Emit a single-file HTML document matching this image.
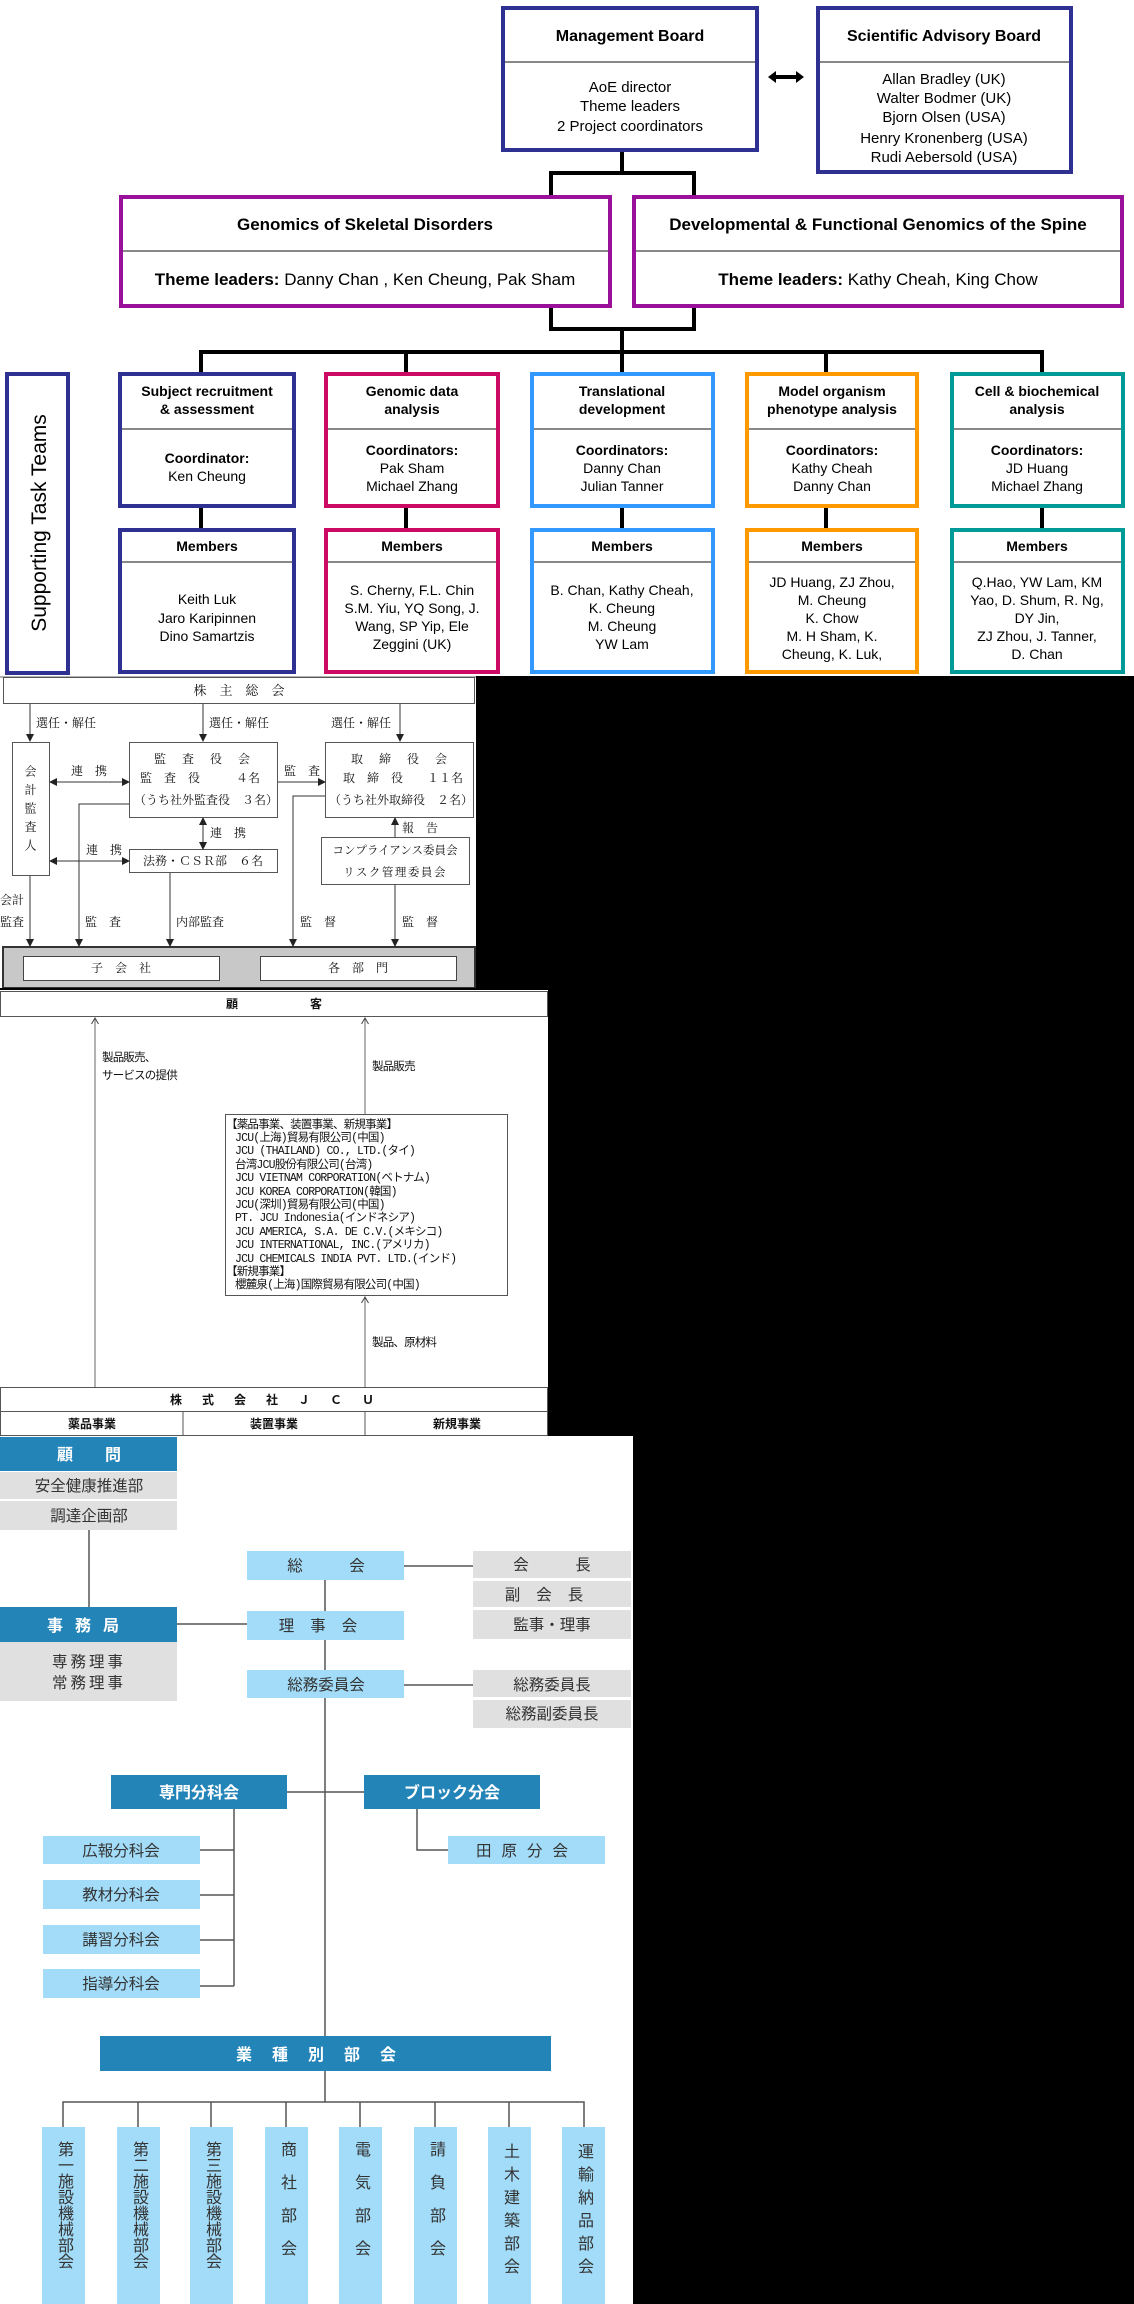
<!DOCTYPE html>
<html><head><meta charset="utf-8">
<style>
html,body{margin:0;padding:0;background:#fff;}
body{width:1134px;height:2304px;position:relative;overflow:hidden;}
svg{position:absolute;left:0;top:0;}
.en{font-family:"Liberation Sans",Arial,sans-serif;fill:#000;}
.jm{font-family:"Liberation Serif","Noto Serif CJK SC",serif;fill:#111;font-size:12px;}
.jg{font-family:"Liberation Mono","Noto Sans CJK JP",monospace;fill:#111;}
.js{font-family:"Liberation Sans","Noto Sans CJK JP",sans-serif;}
.v{position:absolute;writing-mode:vertical-rl;font-family:"Liberation Sans","Noto Sans CJK JP",sans-serif;color:#333;font-size:16px;line-height:16px;}
</style></head><body>
<svg width="1134" height="2304" viewBox="0 0 1134 2304">
<defs>
<marker id="fa" markerWidth="8" markerHeight="8" refX="7" refY="4" orient="auto" markerUnits="userSpaceOnUse"><path d="M0,0 L8,4 L0,8 z" fill="#222"/></marker>
<marker id="fs" markerWidth="8" markerHeight="8" refX="1" refY="4" orient="auto" markerUnits="userSpaceOnUse"><path d="M8,0 L0,4 L8,8 z" fill="#222"/></marker>
<marker id="oa" markerWidth="8" markerHeight="8" refX="7" refY="4" orient="auto" markerUnits="userSpaceOnUse"><path d="M1,0.5 L7,4 L1,7.5" fill="none" stroke="#444" stroke-width="1"/></marker>
</defs>
<rect x="476" y="676" width="658" height="314" fill="#000"/>
<rect x="548" y="990" width="586" height="446" fill="#000"/>
<rect x="633" y="1436" width="501" height="868" fill="#000"/>

<g fill="none" stroke="#000" stroke-width="4">
<path d="M622 152 V173 M551 195 V173 H694 V195"/>
<path d="M551 308 V329 H694 V308 M622 329 V352"/>
<path d="M201 372 V352 H1042 V372 M406 352 V372 M622 352 V372 M826 352 V372"/>
<path d="M201 507 V528 M406 507 V528 M622 507 V528 M826 507 V528 M1042 507 V528"/>
</g>
<rect x="503" y="8" width="254" height="142" fill="#fff" stroke="#2e3192" stroke-width="4"/>
<line x1="505" y1="62" x2="755" y2="62" stroke="#888" stroke-width="2"/>
<text class="en" x="630" y="41" text-anchor="middle" font-size="16" font-weight="bold">Management Board</text>
<g class="en" font-size="15" text-anchor="middle"><text x="630" y="92">AoE director</text><text x="630" y="111">Theme leaders</text><text x="630" y="131">2 Project coordinators</text></g>
<rect x="818" y="8" width="253" height="164" fill="#fff" stroke="#2e3192" stroke-width="4"/>
<line x1="820" y1="62" x2="1069" y2="62" stroke="#888" stroke-width="2"/>
<text class="en" x="944" y="41" text-anchor="middle" font-size="16" font-weight="bold">Scientific Advisory Board</text>
<g class="en" font-size="15" text-anchor="middle"><text x="944" y="84">Allan Bradley (UK)</text><text x="944" y="103">Walter Bodmer (UK)</text><text x="944" y="122">Bjorn Olsen (USA)</text><text x="944" y="143">Henry Kronenberg (USA)</text><text x="944" y="162">Rudi Aebersold (USA)</text></g>
<path d="M768 77 L776 71 V75 H796 V71 L804 77 L796 83 V79 H776 V83 Z" fill="#000"/>

<rect x="121" y="197" width="489" height="109" fill="#fff" stroke="#9b109b" stroke-width="4"/>
<line x1="123" y1="251" x2="608" y2="251" stroke="#888" stroke-width="2"/>
<text class="en" x="365" y="230" text-anchor="middle" font-size="17" font-weight="bold">Genomics of Skeletal Disorders</text>
<text class="en" x="365" y="285" text-anchor="middle" font-size="17"><tspan font-weight="bold">Theme leaders:</tspan> Danny Chan , Ken Cheung, Pak Sham</text>
<rect x="634" y="197" width="488" height="109" fill="#fff" stroke="#9b109b" stroke-width="4"/>
<line x1="636" y1="251" x2="1120" y2="251" stroke="#888" stroke-width="2"/>
<text class="en" x="878" y="230" text-anchor="middle" font-size="17" font-weight="bold">Developmental &amp; Functional Genomics of the Spine</text>
<text class="en" x="878" y="285" text-anchor="middle" font-size="17"><tspan font-weight="bold">Theme leaders:</tspan> Kathy Cheah,  King Chow</text>

<rect x="7" y="374" width="61" height="299" fill="#fff" stroke="#2e3192" stroke-width="4"/>
<text class="en" font-size="21" text-anchor="middle" transform="translate(46,523) rotate(-90)">Supporting Task Teams</text>

<g stroke-width="4" fill="#fff">
<rect x="120" y="374" width="174" height="132" stroke="#2e3192"/>
<rect x="120" y="530" width="174" height="142" stroke="#2e3192"/>
<rect x="326" y="374" width="172" height="132" stroke="#cc0a64"/>
<rect x="326" y="530" width="172" height="142" stroke="#cc0a64"/>
<rect x="532" y="374" width="181" height="132" stroke="#3399ff"/>
<rect x="532" y="530" width="181" height="142" stroke="#3399ff"/>
<rect x="747" y="374" width="170" height="132" stroke="#ff9900"/>
<rect x="747" y="530" width="170" height="142" stroke="#ff9900"/>
<rect x="952" y="374" width="171" height="132" stroke="#009a99"/>
<rect x="952" y="530" width="171" height="142" stroke="#009a99"/>
</g>
<g stroke="#888" stroke-width="2">
<line x1="122" y1="429" x2="292" y2="429"/><line x1="122" y1="562" x2="292" y2="562"/>
<line x1="328" y1="429" x2="496" y2="429"/><line x1="328" y1="562" x2="496" y2="562"/>
<line x1="534" y1="429" x2="711" y2="429"/><line x1="534" y1="562" x2="711" y2="562"/>
<line x1="749" y1="429" x2="915" y2="429"/><line x1="749" y1="562" x2="915" y2="562"/>
<line x1="954" y1="429" x2="1121" y2="429"/><line x1="954" y1="562" x2="1121" y2="562"/>
</g>
<g class="en" font-size="14" text-anchor="middle">
<g font-weight="bold">
<text x="207" y="396">Subject recruitment</text><text x="207" y="414">&amp; assessment</text>
<text x="412" y="396">Genomic data</text><text x="412" y="414">analysis</text>
<text x="622" y="396">Translational</text><text x="622" y="414">development</text>
<text x="832" y="396">Model organism</text><text x="832" y="414">phenotype analysis</text>
<text x="1037" y="396">Cell &amp; biochemical</text><text x="1037" y="414">analysis</text>
<text x="207" y="463">Coordinator:</text>
<text x="412" y="455">Coordinators:</text><text x="622" y="455">Coordinators:</text><text x="832" y="455">Coordinators:</text><text x="1037" y="455">Coordinators:</text>
<text x="207" y="551">Members</text><text x="412" y="551">Members</text><text x="622" y="551">Members</text><text x="832" y="551">Members</text><text x="1037" y="551">Members</text>
</g>
<text x="207" y="481">Ken Cheung</text>
<text x="412" y="473">Pak Sham</text><text x="412" y="491">Michael Zhang</text>
<text x="622" y="473">Danny Chan</text><text x="622" y="491">Julian Tanner</text>
<text x="832" y="473">Kathy Cheah</text><text x="832" y="491">Danny Chan</text>
<text x="1037" y="473">JD Huang</text><text x="1037" y="491">Michael Zhang</text>
<text x="207" y="604">Keith Luk</text><text x="207" y="623">Jaro Karipinnen</text><text x="207" y="641">Dino Samartzis</text>
<text x="412" y="595">S. Cherny, F.L. Chin</text><text x="412" y="613">S.M. Yiu, YQ Song, J.</text><text x="412" y="631">Wang, SP Yip, Ele</text><text x="412" y="649">Zeggini (UK)</text>
<text x="622" y="595">B. Chan, Kathy Cheah,</text><text x="622" y="613">K. Cheung</text><text x="622" y="631">M. Cheung</text><text x="622" y="649">YW Lam</text>
<text x="832" y="587">JD Huang, ZJ Zhou,</text><text x="832" y="605">M. Cheung</text><text x="832" y="623">K. Chow</text><text x="832" y="641">M. H Sham, K.</text><text x="832" y="659">Cheung, K. Luk,</text>
<text x="1037" y="587">Q.Hao,  YW Lam, KM</text><text x="1037" y="605">Yao, D. Shum, R. Ng,</text><text x="1037" y="623">DY Jin,</text><text x="1037" y="641">ZJ Zhou, J. Tanner,</text><text x="1037" y="659">D. Chan</text>
</g>
<line x1="0" y1="677" x2="476" y2="677" stroke="#666" stroke-width="1"/>

<g fill="#fff" stroke="#555" stroke-width="1">
<rect x="3.5" y="677.5" width="471" height="26"/>
<rect x="12.5" y="742.5" width="37" height="133"/>
<rect x="129.5" y="742.5" width="148" height="75"/>
<rect x="325.5" y="742.5" width="148" height="75"/>
<rect x="129.5" y="849.5" width="148" height="23"/>
<rect x="321.5" y="837.5" width="148" height="47"/>
</g>
<rect x="3" y="947" width="472" height="41" fill="#c8c8c8" stroke="#333" stroke-width="2"/>
<rect x="23.5" y="956.5" width="196" height="24" fill="#fff" stroke="#444"/>
<rect x="260.5" y="956.5" width="196" height="24" fill="#fff" stroke="#444"/>
<g fill="none" stroke="#333" stroke-width="1">
<line x1="30" y1="704" x2="30" y2="741" marker-end="url(#fa)"/>
<line x1="203" y1="704" x2="203" y2="741" marker-end="url(#fa)"/>
<line x1="400" y1="704" x2="400" y2="741" marker-end="url(#fa)"/>
<line x1="50" y1="782" x2="129" y2="782" marker-start="url(#fs)" marker-end="url(#fa)"/>
<line x1="278" y1="782" x2="325" y2="782" marker-end="url(#fa)"/>
<line x1="203" y1="818" x2="203" y2="849" marker-start="url(#fs)" marker-end="url(#fa)"/>
<line x1="50" y1="861" x2="129" y2="861" marker-start="url(#fs)" marker-end="url(#fa)"/>
<line x1="395" y1="837" x2="395" y2="818" marker-end="url(#fa)"/>
<path d="M129 804 H79 V946" marker-end="url(#fa)"/>
<line x1="170" y1="873" x2="170" y2="946" marker-end="url(#fa)"/>
<path d="M325 796 H293 V946" marker-end="url(#fa)"/>
<line x1="395" y1="885" x2="395" y2="946" marker-end="url(#fa)"/>
<line x1="30" y1="876" x2="30" y2="946" marker-end="url(#fa)"/>
</g>
<g class="jm">
<text x="239" y="695" text-anchor="middle" font-size="13">株　主　総　会</text>
<text x="36" y="727">選任・解任</text><text x="209" y="727">選任・解任</text><text x="331" y="727">選任・解任</text>
<text x="203" y="763" text-anchor="middle" letter-spacing="2">監　査　役　会</text>
<text x="140" y="782">監　査　役　　　４名</text>
<text x="134" y="804">（うち社外監査役　３名）</text>
<text x="400" y="763" text-anchor="middle" letter-spacing="2">取　締　役　会</text>
<text x="343" y="782">取　締　役　　１１名</text>
<text x="329" y="804">（うち社外取締役　２名）</text>
<text x="89" y="775" text-anchor="middle">連　携</text>
<text x="302" y="775" text-anchor="middle">監　査</text>
<text x="210" y="837">連　携</text>
<text x="104" y="854" text-anchor="middle">連　携</text>
<text x="203" y="865" text-anchor="middle">法務・ＣＳＲ部　６名</text>
<text x="395" y="854" text-anchor="middle" font-size="11.5">コンプライアンス委員会</text>
<text x="395" y="876" text-anchor="middle" font-size="11.5" letter-spacing="1.5">リスク管理委員会</text>
<text x="402" y="832">報　告</text>
<text x="85" y="926">監　査</text><text x="176" y="926">内部監査</text><text x="300" y="926">監　督</text><text x="402" y="926">監　督</text>
<text x="0" y="904">会計</text><text x="0" y="926">監査</text>
<text x="121" y="972" text-anchor="middle">子　会　社</text>
<text x="358" y="972" text-anchor="middle">各　部　門</text>
</g>

<line x1="0" y1="989" x2="476" y2="989" stroke="#000" stroke-width="2"/>
<rect x="0.5" y="991.5" width="547" height="25" fill="#fff" stroke="#555"/>
<text class="jg" x="274" y="1008" text-anchor="middle" font-size="12" font-weight="bold">顧　　　　　　客</text>
<g stroke="#666" stroke-width="1" fill="none">
<line x1="95" y1="1387" x2="95" y2="1018" marker-end="url(#oa)"/>
<line x1="365" y1="1114" x2="365" y2="1018" marker-end="url(#oa)"/>
<line x1="365" y1="1387" x2="365" y2="1297" marker-end="url(#oa)"/>
</g>
<rect x="225.5" y="1114.5" width="282" height="181" fill="#fff" stroke="#555"/>
<g class="jg" font-size="11.5" letter-spacing="-0.8">
<text x="102" y="1061">製品販売、</text><text x="102" y="1079">サービスの提供</text>
<text x="372" y="1070">製品販売</text>
<text x="372" y="1346">製品、原材料</text>
<text x="226" y="1128">【薬品事業、装置事業、新規事業】</text>
<text x="235" y="1141">JCU(上海)貿易有限公司(中国)</text>
<text x="235" y="1154">JCU (THAILAND) CO., LTD.(タイ)</text>
<text x="235" y="1168">台湾JCU股份有限公司(台湾)</text>
<text x="235" y="1181">JCU VIETNAM CORPORATION(ベトナム)</text>
<text x="235" y="1195">JCU KOREA CORPORATION(韓国)</text>
<text x="235" y="1208">JCU(深圳)貿易有限公司(中国)</text>
<text x="235" y="1221">PT. JCU Indonesia(インドネシア)</text>
<text x="235" y="1235">JCU AMERICA, S.A. DE C.V.(メキシコ)</text>
<text x="235" y="1248">JCU INTERNATIONAL, INC.(アメリカ)</text>
<text x="235" y="1262">JCU CHEMICALS INDIA PVT. LTD.(インド)</text>
<text x="226" y="1275">【新規事業】</text>
<text x="235" y="1288">櫻麓泉(上海)国際貿易有限公司(中国)</text>
</g>
<rect x="0.5" y="1387.5" width="547" height="24" fill="#fff" stroke="#555"/>
<rect x="0.5" y="1411.5" width="547" height="24" fill="#fff" stroke="#555"/>
<line x1="183" y1="1411" x2="183" y2="1435" stroke="#555"/>
<line x1="365" y1="1411" x2="365" y2="1435" stroke="#555"/>
<g class="jg" font-size="12" font-weight="bold" text-anchor="middle">
<text x="274" y="1404" letter-spacing="4">株　式　会　社　Ｊ　Ｃ　Ｕ</text>
<text x="92" y="1428">薬品事業</text><text x="274" y="1428">装置事業</text><text x="457" y="1428">新規事業</text>
</g>

<g stroke="#555" stroke-width="1.5" fill="none">
<line x1="89" y1="1530" x2="89" y2="1607"/>
<line x1="404" y1="1566" x2="473" y2="1566"/>
<line x1="177" y1="1624" x2="247" y2="1624"/>
<line x1="404" y1="1685" x2="473" y2="1685"/>
<line x1="325" y1="1580" x2="325" y2="2036"/>
<line x1="287" y1="1792" x2="364" y2="1792"/>
<path d="M234 1809 V1986 M200 1850 H234 M200 1895 H234 M200 1940 H234 M200 1986 H234"/>
<path d="M417 1809 V1850 H448"/>
<path d="M325 2071 V2102 M63 2127 V2102 H584 V2127 M138 2102 V2127 M211 2102 V2127 M286 2102 V2127 M360 2102 V2127 M435 2102 V2127 M509 2102 V2127"/>
</g>
<g fill="#2384b8">
<rect x="0" y="1437" width="177" height="34"/>
<rect x="0" y="1607" width="177" height="35"/>
<rect x="111" y="1775" width="176" height="34"/>
<rect x="364" y="1775" width="176" height="34"/>
<rect x="100" y="2036" width="451" height="35"/>
</g>
<g fill="#e0e0e0">
<rect x="0" y="1472" width="177" height="27"/>
<rect x="0" y="1501" width="177" height="29"/>
<rect x="0" y="1642" width="177" height="59"/>
<rect x="473" y="1551" width="158" height="27"/>
<rect x="473" y="1581" width="158" height="26"/>
<rect x="473" y="1610" width="158" height="29"/>
<rect x="473" y="1670" width="158" height="27"/>
<rect x="473" y="1700" width="158" height="28"/>
</g>
<g fill="#a3dcf8">
<rect x="247" y="1551" width="157" height="29"/>
<rect x="247" y="1611" width="157" height="29"/>
<rect x="247" y="1670" width="157" height="28"/>
<rect x="43" y="1836" width="157" height="28"/>
<rect x="43" y="1880" width="157" height="29"/>
<rect x="43" y="1925" width="157" height="29"/>
<rect x="43" y="1969" width="157" height="29"/>
<rect x="448" y="1836" width="157" height="28"/>
<rect x="42" y="2127" width="43" height="177"/>
<rect x="117" y="2127" width="43" height="177"/>
<rect x="190" y="2127" width="43" height="177"/>
<rect x="265" y="2127" width="43" height="177"/>
<rect x="339" y="2127" width="43" height="177"/>
<rect x="414" y="2127" width="43" height="177"/>
<rect x="488" y="2127" width="43" height="177"/>
<rect x="562" y="2127" width="43" height="177"/>
</g>
<g class="js" font-size="16" text-anchor="middle" fill="#fff" font-weight="bold">
<text x="89" y="1460">顧　　問</text>
<text x="89" y="1631" letter-spacing="12">事務局</text>
<text x="199" y="1798">専門分科会</text>
<text x="452" y="1798">ブロック分会</text>
<text x="326" y="2060" letter-spacing="20">業種別部会</text>
</g>
<g class="js" font-size="15.5" text-anchor="middle" fill="#333">
<text x="89" y="1491">安全健康推進部</text>
<text x="89" y="1521">調達企画部</text>
<text x="89" y="1667" letter-spacing="3">専務理事</text>
<text x="89" y="1688" letter-spacing="3">常務理事</text>
<text x="326" y="1571">総　　　会</text>
<text x="326" y="1631" letter-spacing="16">理事会</text>
<text x="326" y="1690">総務委員会</text>
<text x="552" y="1570">会　　　長</text>
<text x="552" y="1600" letter-spacing="16">副会長</text>
<text x="552" y="1630">監事・理事</text>
<text x="552" y="1690">総務委員長</text>
<text x="552" y="1719">総務副委員長</text>
<text x="121" y="1856">広報分科会</text>
<text x="121" y="1900">教材分科会</text>
<text x="121" y="1945">講習分科会</text>
<text x="121" y="1989">指導分科会</text>
<text x="527" y="1856" letter-spacing="10">田原分会</text>
</g>
</svg>
<div class="v" style="left:24px;top:765px;font-size:12px;line-height:12px;letter-spacing:6.5px;color:#111;font-family:'Liberation Serif','Noto Serif CJK SC',serif;">会計監査人</div>
<div class="v" style="left:55px;top:2141px;">第一施設機械部会</div>
<div class="v" style="left:130px;top:2141px;">第二施設機械部会</div>
<div class="v" style="left:203px;top:2141px;">第三施設機械部会</div>
<div class="v" style="left:278px;top:2141px;letter-spacing:17px;">商社部会</div>
<div class="v" style="left:352px;top:2141px;letter-spacing:17px;">電気部会</div>
<div class="v" style="left:427px;top:2141px;letter-spacing:17px;">請負部会</div>
<div class="v" style="left:501px;top:2143px;letter-spacing:7px;">土木建築部会</div>
<div class="v" style="left:575px;top:2143px;letter-spacing:7px;">運輸納品部会</div>
</body></html>
